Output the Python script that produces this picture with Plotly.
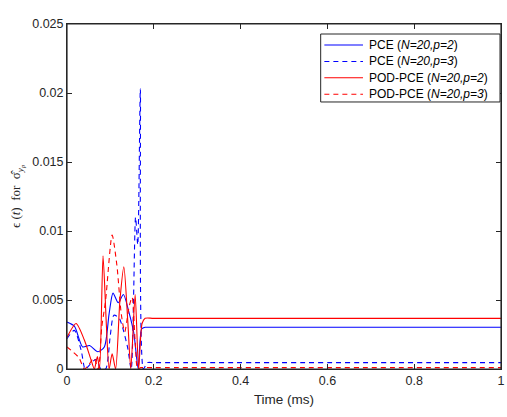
import plotly.graph_objects as go

# PCE (N=20, p=2)
t_pce2 = [0, 0.017, 0.036, 0.052, 0.071, 0.086, 0.097, 0.106, 0.118, 0.13, 0.142, 0.154, 0.164, 0.172, 0.18, 0.2, 1.0]
v_pce2 = [0.0034, 0.0031, 0.0016, 0.0017, 0.00125, 0.0016, 0.0040, 0.0055, 0.0048, 0.0054, 0.0042, 0.0026, 0.0, 0.0029, 0.00302, 0.00302, 0.00302]

# PCE (N=20, p=3)
t_pce3 = [0, 0.017, 0.033, 0.042, 0.055, 0.067, 0.078, 0.089, 0.1, 0.108, 0.12, 0.13, 0.14, 0.148, 0.158, 0.163, 0.169, 0.176, 0.185, 0.2, 1.0]
v_pce3 = [0.0022, 0.0028, 0.0013, 0.0, 0.0004, 0.0007, 0.0, 0.0, 0.0025, 0.0039, 0.0037, 0.0028, 0.0015, 0.0, 0.011, 0.009, 0.0203, 0.0, 0.00046, 0.00046, 0.00046]

# POD-PCE (N=20, p=2)
t_pod2 = [0, 0.021, 0.04, 0.055, 0.063, 0.07, 0.075, 0.083, 0.091, 0.097, 0.104, 0.112, 0.122, 0.131, 0.14, 0.147, 0.157, 0.165, 0.173, 0.18, 0.2, 1.0]
v_pod2 = [0.0023, 0.0033, 0.0021, 0.0007, 0.0, 0.0009, 0.0, 0.0082, 0.003, 0.0, 0.0011, 0.0, 0.005, 0.0074, 0.0035, 0.0, 0.0054, 0.0, 0.0033, 0.00367, 0.00367, 0.00367]

# POD-PCE (N=20, p=3)
t_pod3 = [0, 0.015, 0.028, 0.04, 0.05, 0.062, 0.072, 0.08, 0.089, 0.104, 0.115, 0.125, 0.133, 0.143, 0.15, 0.157, 0.163, 0.17, 0.2, 1.0]
v_pod3 = [0.0016, 0.0012, 0.0008, 0.0, 0.0003, 0.0008, 0.0, 0.003, 0.005, 0.0097, 0.0075, 0.004, 0.0027, 0.0045, 0.0052, 0.002, 0.0, 0.0001, 0.0001, 0.0001]

series_names = ["PCE (<i>N=20,p=2</i>)", "PCE (<i>N=20,p=3</i>)",
                "POD-PCE (<i>N=20,p=2</i>)", "POD-PCE (<i>N=20,p=3</i>)"]
series_t = [t_pce2, t_pce3, t_pod2, t_pod3]
series_v = [v_pce2, v_pce3, v_pod2, v_pod3]
series_colors = ["#0000ff", "#0000ff", "#ff0000", "#ff0000"]
series_dashed = [False, True, False, True]

x_ticks = [0, 0.2, 0.4, 0.6, 0.8, 1]
x_ticklabels = ["0", "0.2", "0.4", "0.6", "0.8", "1"]
y_ticks = [0, 0.005, 0.01, 0.015, 0.02, 0.025]
y_ticklabels = ["0", "0.005", "0.01", "0.015", "0.02", "0.025"]

DASH = "5px,4px"
fig = go.Figure()
for name, t, v, color, dashed in zip(series_names, series_t, series_v, series_colors, series_dashed):
    line = dict(color=color, width=1.1, shape="spline", smoothing=0.7)
    if dashed:
        line["dash"] = DASH
    fig.add_trace(go.Scatter(x=t, y=v, mode="lines", name=name, line=line, showlegend=False))

axis_color = "#262626"

# legend box drawn in paper coordinates (top-right inside the axes)
leg_x0, leg_x1, leg_y0, leg_y1 = 0.5845, 0.9977, 0.774, 0.971
row_y = [0.939, 0.8915, 0.844, 0.7965]
fig.add_shape(type="rect", xref="paper", yref="paper", x0=leg_x0, x1=leg_x1, y0=leg_y0, y1=leg_y1,
              line=dict(color=axis_color, width=1), fillcolor="white", layer="above")
for i, (name, color, dashed) in enumerate(zip(series_names, series_colors, series_dashed)):
    fig.add_shape(type="line", xref="paper", yref="paper", x0=0.593, x1=0.682, y0=row_y[i], y1=row_y[i],
                  line=dict(color=color, width=1.1, dash=DASH if dashed else "solid"), layer="above")
    fig.add_annotation(xref="paper", yref="paper", x=0.6915, y=row_y[i], xanchor="left", yanchor="middle",
                       text=name, showarrow=False, font=dict(size=12, color="#000000"))

# axes frame
fig.add_shape(type="rect", xref="paper", yref="paper", x0=0, x1=1, y0=0, y1=1,
              line=dict(color=axis_color, width=1.2), layer="above")

fig.update_layout(
    width=507, height=417,
    margin=dict(l=67, r=2, t=24, b=48),
    paper_bgcolor="white", plot_bgcolor="white",
    font=dict(family="Liberation Sans, Arial, sans-serif", size=12.5, color=axis_color),
    showlegend=False,
    xaxis=dict(
        range=[0, 1], tickvals=x_ticks, ticktext=x_ticklabels,
        ticks="inside", ticklen=5, tickcolor=axis_color,
        ticklabeloverflow="allow",
        showline=True, linecolor=axis_color, linewidth=1, mirror="allticks",
        showgrid=False, zeroline=False,
        title=dict(text="Time (ms)", font=dict(size=13.5), standoff=7),
    ),
    yaxis=dict(
        range=[0, 0.025], tickvals=y_ticks, ticktext=y_ticklabels,
        ticks="inside", ticklen=5, tickcolor=axis_color,
        ticklabeloverflow="allow",
        showline=True, linecolor=axis_color, linewidth=1, mirror="allticks",
        showgrid=False, zeroline=False,
        title=dict(text="ϵ (<i>t</i>)  for  σ̂<sub><i>y<sub>p</sub></i></sub>",
                   font=dict(family="Liberation Serif, DejaVu Serif, serif", size=13),
                   standoff=8),
    ),
)

fig.write_html("out.html", config={"displayModeBar": False},
               post_script="document.body.style.margin='0';")
